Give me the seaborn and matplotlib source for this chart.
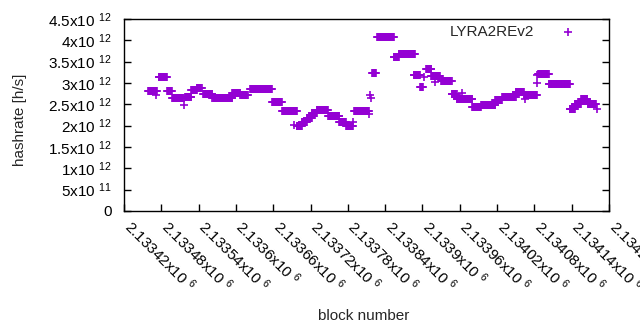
import numpy as np
import pandas as pd
import matplotlib
matplotlib.use("Agg")
import matplotlib.pyplot as plt
import matplotlib.transforms as mtransforms
import seaborn as sns

# constant-hashrate runs: first block, last block, hashrate [h/s]
seg_start = [2133459, 2133476, 2133489, 2133497, 2133518, 2133528, 2133537, 2133547,
             2133562, 2133594, 2133607, 2133623, 2133658, 2133674, 2133698, 2133706,
             2133714, 2133722, 2133730, 2133748, 2133766, 2133777, 2133790, 2133819,
             2133827, 2133854, 2133862, 2133886, 2133896, 2133906, 2133914, 2133930,
             2133947, 2133955, 2133980, 2133994, 2134017, 2134028, 2134050, 2134063,
             2134086, 2134103, 2134137, 2134145, 2134155, 2134166]
seg_end = [2133473, 2133489, 2133497, 2133516, 2133528, 2133537, 2133545, 2133562,
           2133594, 2133607, 2133619, 2133658, 2133674, 2133698, 2133706, 2133714,
           2133722, 2133730, 2133748, 2133766, 2133777, 2133788, 2133814, 2133825,
           2133854, 2133862, 2133888, 2133896, 2133901, 2133914, 2133928, 2133947,
           2133955, 2133980, 2133994, 2134017, 2134028, 2134050, 2134063, 2134084,
           2134103, 2134137, 2134145, 2134155, 2134165, 2134179]
seg_hashrate = [2.81e12, 3.14e12, 2.81e12, 2.65e12, 2.67e12, 2.84e12, 2.88e12, 2.74e12,
                2.65e12, 2.77e12, 2.72e12, 2.86e12, 2.56e12, 2.34e12, 1.99e12, 2.09e12,
                2.18e12, 2.30e12, 2.37e12, 2.23e12, 2.09e12, 1.99e12, 2.34e12, 3.23e12,
                4.08e12, 3.61e12, 3.68e12, 3.19e12, 2.91e12, 3.33e12, 3.16e12, 3.05e12,
                2.74e12, 2.63e12, 2.44e12, 2.48e12, 2.60e12, 2.67e12, 2.79e12, 2.72e12,
                3.21e12, 2.98e12, 2.39e12, 2.51e12, 2.63e12, 2.51e12]

# single outlying blocks
extra_block = [2133471, 2133516, 2133693, 2133788, 2133814, 2133816, 2133817,
               2133902, 2133920, 2133964, 2134065, 2134084, 2134085, 2134181]
extra_hashrate = [2.72e12, 2.48e12, 2.02e12, 2.09e12, 2.27e12, 2.72e12, 2.65e12,
                  3.14e12, 3.02e12, 2.77e12, 2.63e12, 3.00e12, 3.19e12, 2.39e12]

ytick_vals = [0, 5e11, 1e12, 1.5e12, 2e12, 2.5e12, 3e12, 3.5e12, 4e12, 4.5e12]
ytick_labels = ["0", "5x10 $^{11}$", "1x10 $^{12}$", "1.5x10 $^{12}$", "2x10 $^{12}$",
                "2.5x10 $^{12}$", "3x10 $^{12}$", "3.5x10 $^{12}$", "4x10 $^{12}$",
                "4.5x10 $^{12}$"]
xtick_vals = [2133420, 2133480, 2133540, 2133600, 2133660, 2133720, 2133780,
              2133840, 2133900, 2133960, 2134020, 2134080, 2134140, 2134200]
xtick_labels = ["2.13342x10 $^{6}$", "2.13348x10 $^{6}$", "2.13354x10 $^{6}$",
                "2.1336x10 $^{6}$", "2.13366x10 $^{6}$", "2.13372x10 $^{6}$",
                "2.13378x10 $^{6}$", "2.13384x10 $^{6}$", "2.1339x10 $^{6}$",
                "2.13396x10 $^{6}$", "2.13402x10 $^{6}$", "2.13408x10 $^{6}$",
                "2.13414x10 $^{6}$", "2.1342x10 $^{6}$"]

blocks, rates = [], []
for s, e, v in zip(seg_start, seg_end, seg_hashrate):
    b = np.arange(s, e + 1)
    blocks.extend(b)
    rates.extend([v] * len(b))
blocks.extend(extra_block)
rates.extend(extra_hashrate)
df = pd.DataFrame({"block": blocks, "hashrate": rates})

sns.set_style("white")
plt.rcParams["font.family"] = ["Liberation Sans", "DejaVu Sans"]
plt.rcParams["mathtext.fontset"] = "custom"
plt.rcParams["mathtext.rm"] = "Liberation Sans"
plt.rcParams["mathtext.it"] = "Liberation Sans"
plt.rcParams["font.size"] = 11

fig = plt.figure(figsize=(6.4, 3.3), dpi=100)
ax = fig.add_axes([124 / 640, 1 - 211 / 330, 485 / 640, 192 / 330])

sns.scatterplot(data=df, x="block", y="hashrate", marker="+", color="#9400d3",
                s=32, linewidth=1.2, label="LYRA2REv2", ax=ax)

ax.set_xlim(2133420, 2134200)
ax.set_ylim(0, 4.5e12)
ax.tick_params(axis="y", direction="in", length=5, width=1, pad=9,
               left=True, right=True, colors="black")
ax.tick_params(axis="x", direction="in", length=5, width=1, pad=4,
               bottom=True, top=False, colors="black")
ax.set_yticks(ytick_vals)
ax.set_yticklabels(ytick_labels)
ax.set_xticks(xtick_vals)
ax.set_xticklabels(xtick_labels, rotation=-45, ha="left", va="top",
                   rotation_mode="anchor")
# gnuplot puts the rotated labels a bit right of the tick
offset = mtransforms.ScaledTranslation(7 / 72, 0, fig.dpi_scale_trans)
for lbl in ax.get_xticklabels():
    lbl.set_transform(lbl.get_transform() + offset)

for sp in ax.spines.values():
    sp.set_color("black")
    sp.set_linewidth(1)

ax.set_xlabel("")
ax.set_ylabel("hashrate [h/s]")
ax.yaxis.set_label_coords(-0.2145, 0.474)
ax.yaxis.label.set_va("center")
fig.text(364 / 640, 1 - 316 / 330, "block number", ha="center", va="center")

ax.legend(loc="upper right", bbox_to_anchor=(0.955, 0.97), frameon=False,
          markerfirst=False, handlelength=2.5, handletextpad=1.0,
          borderpad=0, borderaxespad=0, markerscale=1.0)

fig.savefig("out.png", dpi=100)
